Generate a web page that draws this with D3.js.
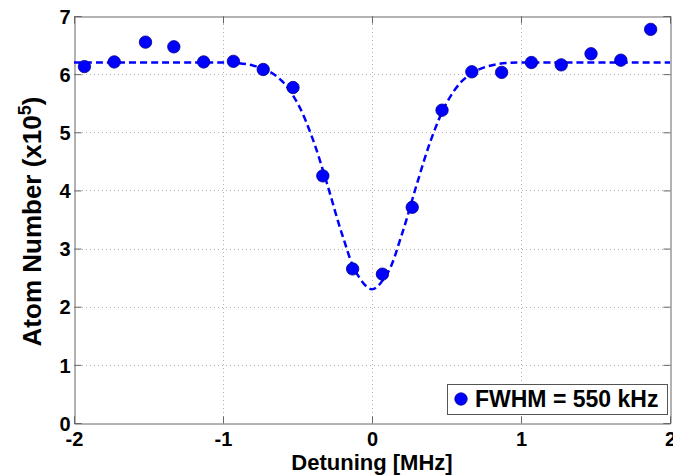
<!DOCTYPE html>
<html>
<head>
<meta charset="utf-8">
<script src="https://cdn.jsdelivr.net/npm/d3@7"></script>
<style>
  body { margin: 0; background: #fff; }
  svg text { font-family: "Liberation Sans", Arial, sans-serif; font-weight: bold; }
</style>
</head>
<body>
<svg id="chart"></svg>
<script>
var width = 673,
    height = 475;

// measured points
var detuning = [-1.93, -1.73, -1.52, -1.33, -1.13, -0.93, -0.73, -0.53, -0.33, -0.13,
                0.07, 0.27, 0.47, 0.67, 0.87, 1.07, 1.27, 1.47, 1.67, 1.87];
var atoms = [6.13, 6.21, 6.55, 6.47, 6.21, 6.22, 6.08, 5.77, 4.25, 2.65,
             2.56, 3.71, 5.38, 6.04, 6.03, 6.20, 6.16, 6.35, 6.24, 6.77];

// fit curve
var fitX = [-2, -1.2, -1.0, -0.9, -0.8, -0.7, -0.6, -0.5, -0.4, -0.3, -0.2, -0.1, 0,
            0.1, 0.2, 0.3, 0.4, 0.5, 0.6, 0.7, 0.8, 0.9, 1.0, 1.2, 2];
var fitY = [6.2, 6.2, 6.2, 6.19, 6.15, 6.06, 5.87, 5.50, 4.90, 4.10, 3.24, 2.56, 2.30,
            2.56, 3.24, 4.10, 4.90, 5.50, 5.87, 6.06, 6.15, 6.19, 6.2, 6.2, 6.2];

var xTicks = [-2, -1, 0, 1, 2];
var yTicks = [0, 1, 2, 3, 4, 5, 6, 7];
var legendLabel = "FWHM = 550 kHz";

var pLeft = 74, pRight = 670, pTop = 16, pBottom = 423;

var x = d3.scaleLinear().domain([-2, 2]).range([pLeft, pRight]);
var y = d3.scaleLinear().domain([0, 7]).range([pBottom, pTop]);

var fmt = function(d) { return String(d); };

var svg = d3.select("#chart")
    .attr("width", width)
    .attr("height", height);

// grid
var grid = svg.append("g")
    .attr("stroke", "#b0b0b0")
    .attr("stroke-width", 1)
    .attr("stroke-dasharray", "1,3");

grid.selectAll(".gx")
    .data(xTicks.slice(1, -1))
  .enter().append("line")
    .attr("x1", function(d) { return Math.round(x(d)) + 0.5; })
    .attr("x2", function(d) { return Math.round(x(d)) + 0.5; })
    .attr("y1", pTop)
    .attr("y2", pBottom);

grid.selectAll(".gy")
    .data(yTicks.slice(1, -1))
  .enter().append("line")
    .attr("y1", function(d) { return Math.round(y(d)) + 0.5; })
    .attr("y2", function(d) { return Math.round(y(d)) + 0.5; })
    .attr("x1", pLeft)
    .attr("x2", pRight);

// axes (ticks inward, box on)
var tickLen = 7;
var xAxis = d3.axisBottom(x).tickValues(xTicks).tickFormat(fmt).tickSize(-tickLen).tickPadding(8);
var yAxis = d3.axisLeft(y).tickValues(yTicks).tickFormat(fmt).tickSize(-tickLen).tickPadding(4);

var gx = svg.append("g")
    .attr("transform", "translate(0," + (pBottom + 0.5) + ")")
    .call(xAxis);
var gy = svg.append("g")
    .attr("transform", "translate(" + (pLeft + 0.5) + ",0)")
    .call(yAxis);

svg.append("g")
    .attr("transform", "translate(0," + (pTop + 0.5) + ")")
    .call(d3.axisTop(x).tickValues(xTicks).tickSize(-tickLen).tickFormat(""));
svg.append("g")
    .attr("transform", "translate(" + (pRight + 0.5) + ",0)")
    .call(d3.axisRight(y).tickValues(yTicks).tickSize(-tickLen).tickFormat(""));

svg.selectAll(".domain").attr("stroke", "#666");
svg.selectAll(".tick line").attr("stroke", "#666");

gx.selectAll("text")
    .attr("font-size", 20)
    .attr("font-family", "Liberation Sans, Arial, sans-serif")
    .attr("font-weight", "bold")
    .attr("fill", "#000");
gy.selectAll("text")
    .attr("font-size", 20)
    .attr("font-family", "Liberation Sans, Arial, sans-serif")
    .attr("font-weight", "bold")
    .attr("fill", "#000")
    .attr("dy", "0.36em");

// fit line
var line = d3.line()
    .x(function(d, i) { return x(fitX[i]); })
    .y(function(d, i) { return y(fitY[i]); })
    .curve(d3.curveCatmullRom);

svg.append("path")
    .datum(fitY)
    .attr("d", line)
    .attr("fill", "none")
    .attr("stroke", "#0000ff")
    .attr("stroke-width", 2.5)
    .attr("stroke-dasharray", "7,4");

// points
svg.selectAll(".pt")
    .data(atoms)
  .enter().append("circle")
    .attr("cx", function(d, i) { return x(detuning[i]); })
    .attr("cy", function(d) { return y(d); })
    .attr("r", 6.2)
    .attr("fill", "#0000ff")
    .attr("stroke", "#00008a")
    .attr("stroke-width", 0.8);

// axis labels
svg.append("text")
    .attr("x", (pLeft + pRight) / 2)
    .attr("y", 470)
    .attr("text-anchor", "middle")
    .attr("font-size", 22)
    .text("Detuning [MHz]");

var ylab = svg.append("text")
    .attr("transform", "translate(41," + ((pTop + pBottom) / 2 + 2) + ") rotate(-90)")
    .attr("text-anchor", "middle")
    .attr("font-size", 26);
ylab.append("tspan").text("Atom Number (x10");
ylab.append("tspan").attr("font-size", 18).attr("dy", -10).text("5");
ylab.append("tspan").attr("dy", 10).text(")");

// legend
var lg = svg.append("g");
lg.append("rect")
    .attr("x", 447.5)
    .attr("y", 384.5)
    .attr("width", 220)
    .attr("height", 30)
    .attr("fill", "#fff")
    .attr("stroke", "#555")
    .attr("stroke-width", 1);
lg.append("circle")
    .attr("cx", 461)
    .attr("cy", 399)
    .attr("r", 6.2)
    .attr("fill", "#0000ff")
    .attr("stroke", "#00008a")
    .attr("stroke-width", 0.8);
lg.append("text")
    .attr("x", 475)
    .attr("y", 407)
    .attr("font-size", 23)
    .text(legendLabel);
</script>
</body>
</html>
